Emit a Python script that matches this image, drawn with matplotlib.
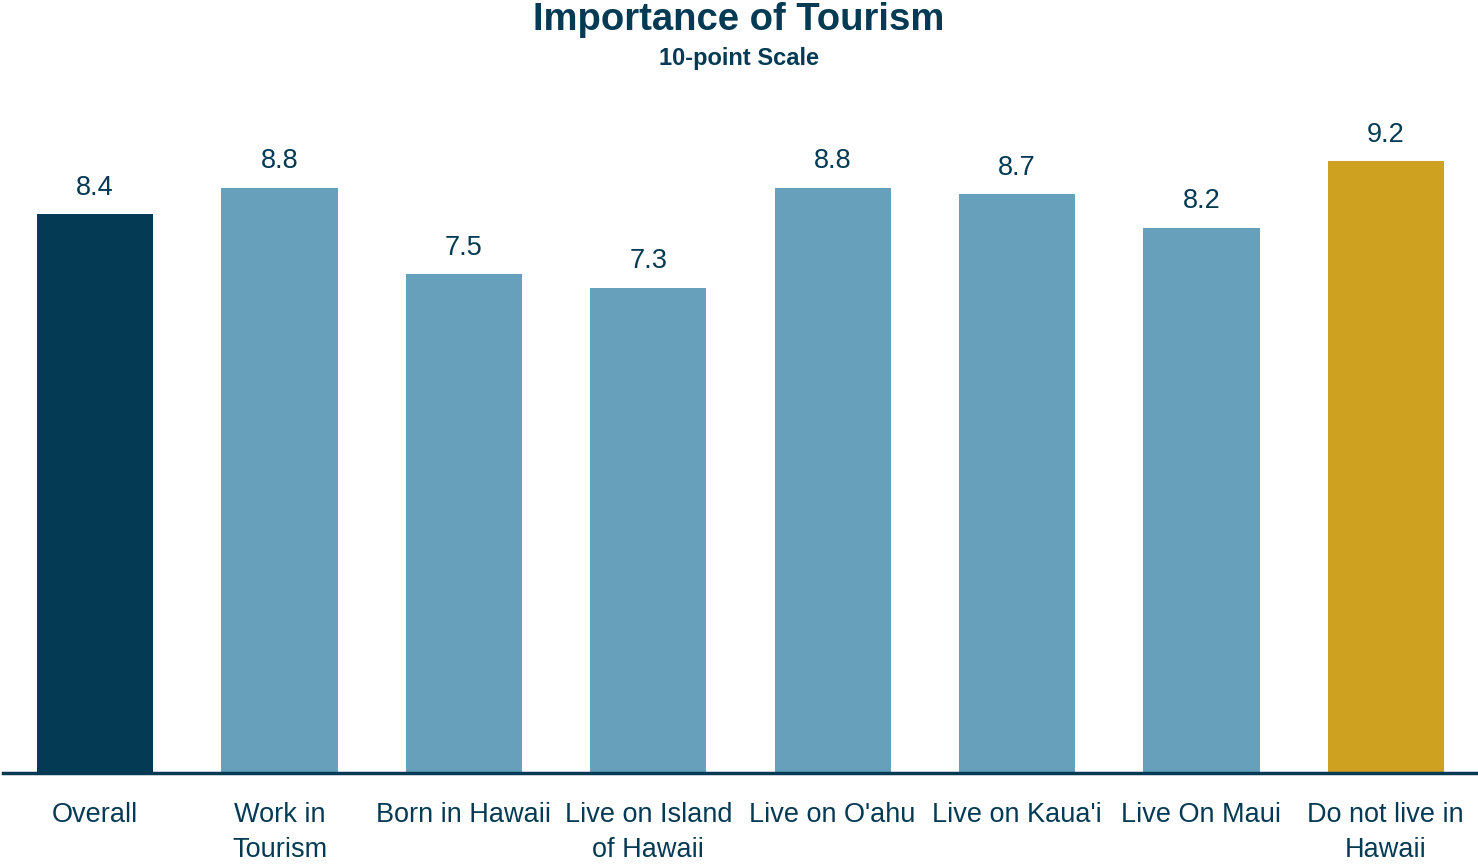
import matplotlib
matplotlib.use("Agg")
import matplotlib.pyplot as plt

categories = ["Overall", "Work in\nTourism", "Born in Hawaii", "Live on Island\nof Hawaii",
              "Live on O'ahu", "Live on Kaua'i", "Live On Maui", "Do not live in\nHawaii"]
values = [8.4, 8.8, 7.5, 7.3, 8.8, 8.7, 8.2, 9.2]
value_labels = ["8.4", "8.8", "7.5", "7.3", "8.8", "8.7", "8.2", "9.2"]
colors = ["#053a54", "#66a0bb", "#66a0bb", "#66a0bb", "#66a0bb", "#66a0bb", "#66a0bb", "#cea220"]

FONT = ["Liberation Sans Narrow", "Liberation Sans", "DejaVu Sans"]
TXT = "#053a54"

fig = plt.figure(figsize=(14.78, 8.65), dpi=100)
ax = fig.add_axes([0.002, 0.1064, 0.998, 0.7688])
x = list(range(len(categories)))
ax.bar(x, values, width=0.63, color=colors, zorder=2)
ax.set_xlim(-0.5, len(categories) - 0.5)
ax.set_ylim(0, 10)
for xi, v, lab in zip(x, values, value_labels):
    ax.text(xi, v + 0.2, lab, ha="center", va="bottom", fontsize=19.5, color=TXT, family=FONT)
ax.set_xticks(x)
ax.set_xticklabels(categories, fontsize=19.5, color=TXT, family=FONT, linespacing=1.45)
ax.tick_params(axis="x", length=0, pad=21)
ax.set_yticks([])
for s in ["top", "right", "left"]:
    ax.spines[s].set_visible(False)
ax.spines["bottom"].set_color(TXT)
ax.spines["bottom"].set_linewidth(2.5)
ax.spines["bottom"].set_zorder(3)

fig.text(0.5, 0.977, "Importance of Tourism", ha="center", va="center", fontsize=27.5,
         fontweight="bold", color=TXT, family=FONT)
fig.text(0.5, 0.932, "10-point Scale", ha="center", va="center", fontsize=17,
         fontweight="bold", color=TXT, family=FONT)

fig.savefig("out.png", dpi=100)
